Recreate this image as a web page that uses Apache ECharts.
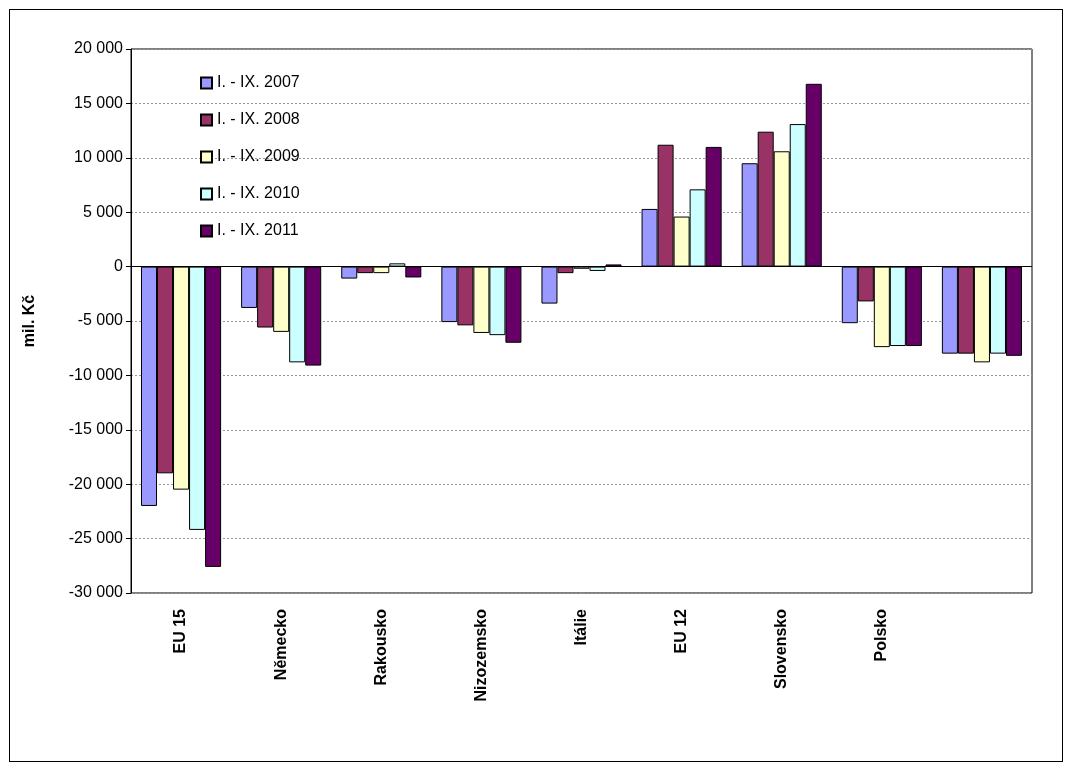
<!DOCTYPE html>
<html>
<head>
<meta charset="UTF-8" />
<script src="https://cdn.jsdelivr.net/npm/echarts@6/dist/echarts.min.js"></script>
<style>
body{margin:0;background:#fff;}
#frame{position:absolute;left:9px;top:9px;width:1052px;height:751px;border:1px solid #000;}
#chart{width:1071px;height:769px;position:absolute;left:0;top:0;}
</style>
</head>
<body>
<div id="frame"></div>
<div id="chart"></div>
<script>
var categories = ['EU 15', 'Německo', 'Rakousko', 'Nizozemsko', 'Itálie', 'EU 12', 'Slovensko', 'Polsko', ''];
var seriesNames = ['I. - IX. 2007', 'I. - IX. 2008', 'I. - IX. 2009', 'I. - IX. 2010', 'I. - IX. 2011'];
var v2007 = [-22000, -3800, -1100, -5100, -3400, 5300, 9500, -5200, -8000];
var v2008 = [-19000, -5600, -600, -5400, -600, 11200, 12400, -3200, -8000];
var v2009 = [-20500, -6000, -600, -6100, -200, 4600, 10600, -7400, -8800];
var v2010 = [-24200, -8800, 300, -6300, -400, 7100, 13100, -7300, -8000];
var v2011 = [-27600, -9100, -1000, -7000, 200, 11000, 16800, -7300, -8200];
var colors = ['#9999ff', '#993366', '#ffffcc', '#ccffff', '#660066'];

var values = [v2007, v2008, v2009, v2010, v2011];
var chart = echarts.init(document.getElementById('chart'));
chart.setOption({
  animation: false,
  textStyle: {fontFamily: 'Liberation Sans, Arial, sans-serif'},
  legend: {
    left: 195, top: 70, orient: 'vertical', itemGap: 21,
    itemWidth: 11, itemHeight: 11, icon: 'rect',
    textStyle: {fontSize: 16, color: '#000'},
    data: seriesNames
  },
  grid: {left: 131, right: 39, top: 49, bottom: 176, show: true, borderColor: '#000', borderWidth: 1},
  xAxis: {
    type: 'category', data: categories, position: 'bottom', offset: 0,
    axisLine: {onZero: false, show: false},
    axisTick: {show: false},
    axisLabel: {rotate: 90, fontWeight: 'bold', fontSize: 16, color: '#000', margin: 16}
  },
  yAxis: {
    type: 'value', min: -30000, max: 20000, interval: 5000,
    name: 'mil. Kč', nameLocation: 'middle', nameGap: 93, nameRotate: 90,
    nameTextStyle: {fontWeight: 'bold', fontSize: 16, color: '#000'},
    axisLine: {show: true, lineStyle: {color: '#000'}},
    axisTick: {show: true, length: 5, lineStyle: {color: '#000'}},
    axisLabel: {fontSize: 16, color: '#000', formatter: function (v) {
      var s = Math.abs(v).toString();
      if (s.length > 3) s = s.slice(0, s.length - 3) + ' ' + s.slice(-3);
      return (v < 0 ? '-' : '') + s;
    }},
    splitLine: {show: true, lineStyle: {color: '#999', type: [2, 2]}}
  },
  series: values.map(function (d, i) {
    var s = {
      name: seriesNames[i], type: 'bar', data: d, barGap: '0%', barCategoryGap: '20%',
      itemStyle: {color: colors[i], borderColor: '#000', borderWidth: 1}
    };
    if (i === 0) s.markLine = {silent: true, symbol: 'none', label: {show: false},
      lineStyle: {color: '#000', type: 'solid', width: 1}, data: [{yAxis: 0}]};
    return s;
  })
});
</script>
</body>
</html>
